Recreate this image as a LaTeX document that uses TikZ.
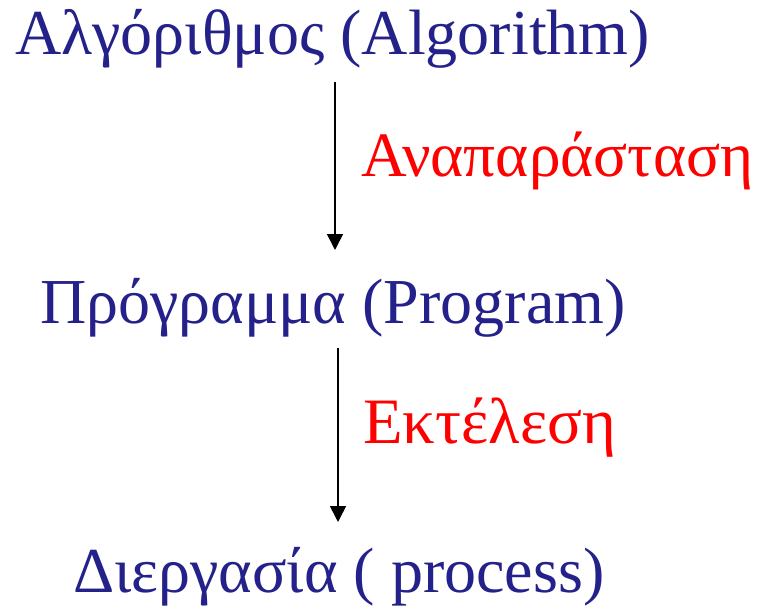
\documentclass[tikz,border=0pt]{standalone}
\usepackage{fontspec}
\setmainfont{Liberation Serif}
\usetikzlibrary{arrows.meta}
\definecolor{navy}{RGB}{36,34,138}
\definecolor{redlab}{RGB}{255,0,0}
\begin{document}
\begin{tikzpicture}[x=1bp,y=-1bp,
  term/.style={anchor=base west,inner sep=0pt,text=navy,font=\fontsize{64.3}{68}\selectfont},
  lab/.style={anchor=base west,inner sep=0pt,text=redlab,font=\fontsize{65}{68}\selectfont},
  flow/.style={draw=black,line width=1.6bp,-{Triangle[length=16bp,width=16bp]}}]
\useasboundingbox (0,0) rectangle (757,607);
\node[term] (alg) at (15,55) {Αλγόριθμος (Algorithm)};
\node[term] (prog) at (40,323) {Πρόγραμμα (Program)};
\node[term] (proc) at (73,592) {Διεργασία ( process)};
\node[lab,font=\fontsize{63.5}{66}\selectfont] (rep) at (361,177) {Αναπαράσταση};
\node[lab] (exe) at (363,443) {Εκτέλεση};
\coordinate (a1s) at (335,82);
\coordinate (a1e) at (335,250);
\coordinate (a2s) at (338,348);
\coordinate (a2e) at (338,522);
\draw[flow] (a1s) -- (a1e);
\draw[flow] (a2s) -- (a2e);
\end{tikzpicture}
\end{document}
